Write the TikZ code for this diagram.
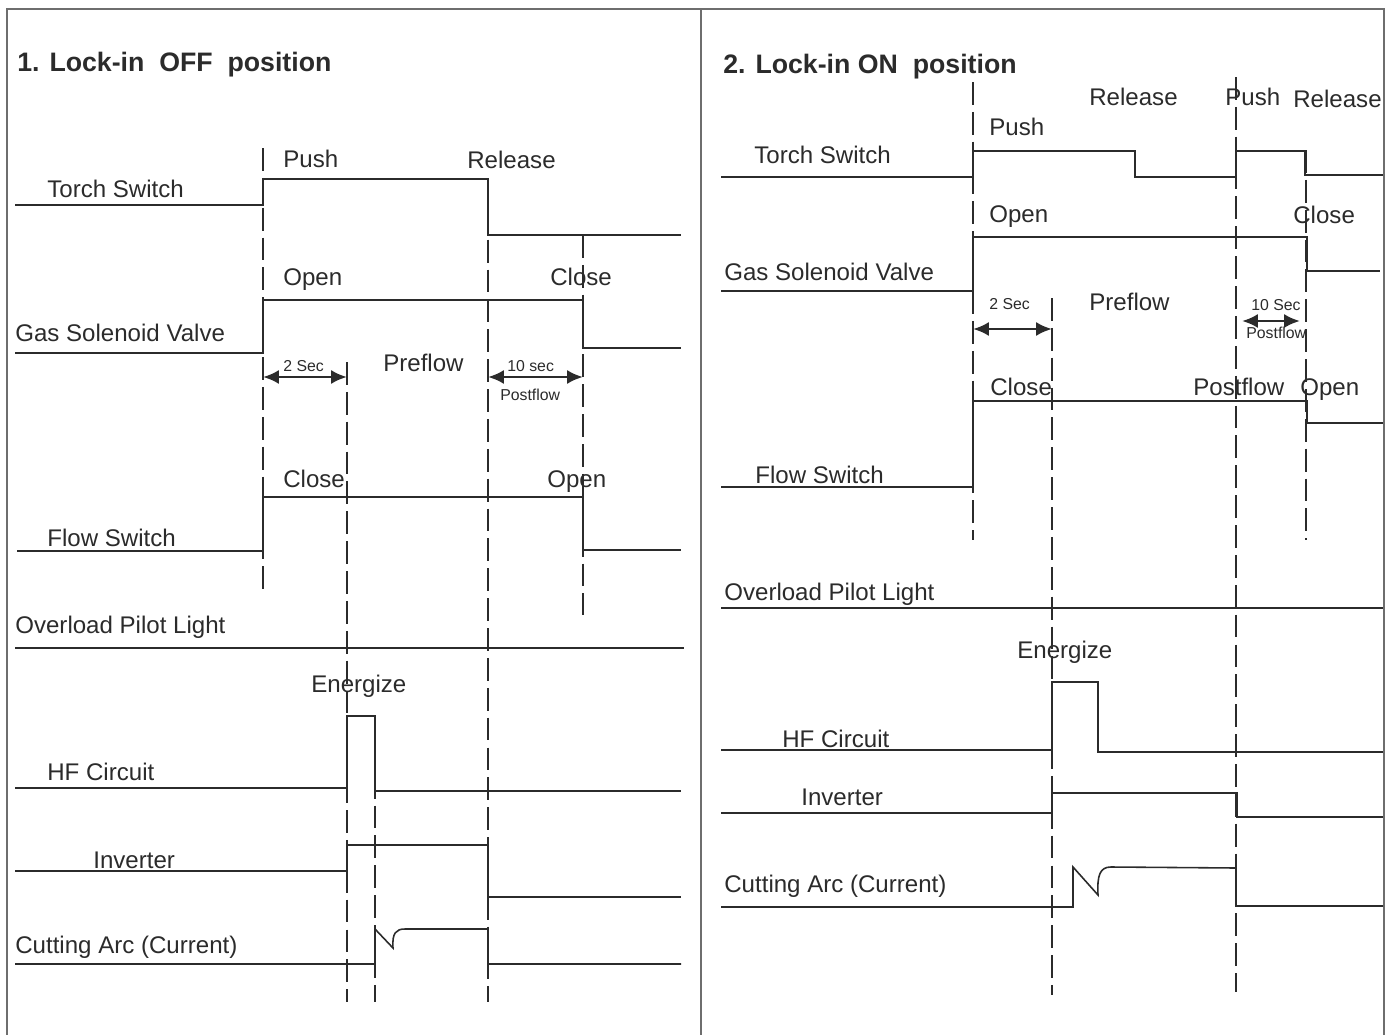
\documentclass[tikz,border=0pt]{standalone}
\usepackage{fontspec}
\setmainfont{Liberation Sans}
\usepackage{tikz}
\usetikzlibrary{arrows.meta}
\definecolor{ink}{HTML}{2B2B2B}
\definecolor{rule}{HTML}{6E6E6E}

\begin{document}
\begin{tikzpicture}[
  x=0.02cm,y=-0.02cm,
  lbl/.style={anchor=base west,inner sep=0pt,text=ink,font=\fontsize{13.7}{16}\selectfont},
  sml/.style={anchor=base west,inner sep=0pt,text=ink,font=\fontsize{9}{11}\selectfont},
  ttl/.style={anchor=base west,inner sep=0pt,text=ink,font=\fontsize{15.2}{18}\selectfont\bfseries},
  sig/.style={line width=0.9pt,color=ink},
  timeline/.style={line width=1.3pt,color=ink,dash pattern=on 13pt off 4pt},
  span/.style={{Latex[length=9pt,width=8pt]}-{Latex[length=9pt,width=8pt]},line width=1.6pt,color=ink},
  border/.style={line width=0.8pt,color=rule}
]
\useasboundingbox (0,0) rectangle (1387,1035);
\draw[border] (7,1035) -- (7,9) -- (1384,9) -- (1384,1035);
\draw[border] (701,9) -- (701,1035);

% lock-in off
\node[ttl] (offtitle) at (17,71) {1. Lock-in\ \ OFF\ \ position};
\node[lbl] (lpush) at (283,167) {Push};
\node[lbl] (lrelease) at (467,168) {Release};
\node[lbl] (ltorch) at (47,197) {Torch Switch};
\node[lbl] (lgopen) at (283,285) {Open};
\node[lbl] (lgclose) at (550,285) {Close};
\node[lbl] (lgas) at (15,341) {Gas Solenoid Valve};
\node[sml] (lpre) at (283,371) {2 Sec};
\node[lbl] (lpreflow) at (383,371) {Preflow};
\node[sml] (lpost) at (507,371) {10 sec};
\node[sml] (lpostflow) at (500,400) {Postflow};
\node[lbl] (lfclose) at (283,487) {Close};
\node[lbl] (lfopen) at (547,487) {Open};
\node[lbl] (lflow) at (47,546) {Flow Switch};
\node[lbl] (lover) at (15,633) {Overload Pilot Light};
\node[lbl] (lenergize) at (311,692) {Energize};
\node[lbl] (lhf) at (47,780) {HF Circuit};
\node[lbl] (linv) at (93,868) {Inverter};
\node[lbl] (larc) at (15,953) {Cutting Arc (Current)};

\draw[sig] (15,205) -- (263,205) -- (263,179) -- (488,179) -- (488,235) -- (681,235);
\draw[sig] (15,353) -- (263,353) -- (263,300) -- (583,300) -- (583,348) -- (681,348);
\draw[sig] (17,551) -- (263,551) -- (263,497) -- (583,497) -- (583,550) -- (681,550);
\draw[sig] (15,648) -- (684,648);
\draw[sig] (15,788) -- (347,788) -- (347,716) -- (375,716) -- (375,791) -- (681,791);
\draw[sig] (15,871) -- (347,871) -- (347,845) -- (488,845) -- (488,897) -- (681,897);
\draw[sig] (15,964) -- (375,964) -- (375,929) -- (393,948)
  .. controls (392,933) and (396,929) .. (405,929) -- (488,929) -- (488,964) -- (681,964);

\draw[timeline] (263,148) -- (263,595);
\draw[timeline] (347,362) -- (347,1002);
\draw[timeline] (375,716) -- (375,1002);
\draw[timeline] (488,180) -- (488,1002);
\draw[timeline] (583,235) -- (583,615);
\draw[span] (263,377) -- (347,377);
\draw[span] (488,377) -- (583,377);

% lock-in on
\node[ttl] (ontitle) at (723,73) {2. Lock-in ON\ \ position};
\node[lbl] (rrelease) at (1089,105) {Release};
\node[lbl] (rpushb) at (1225,105) {Push};
\node[lbl] (rreleaseb) at (1293,107) {Release};
\node[lbl] (rpush) at (989,135) {Push};
\node[lbl] (rtorch) at (754,163) {Torch Switch};
\node[lbl] (rgopen) at (989,222) {Open};
\node[lbl] (rgclose) at (1293,223) {Close};
\node[lbl] (rgas) at (724,280) {Gas Solenoid Valve};
\node[sml] (rpre) at (989,309) {2 Sec};
\node[lbl] (rpreflow) at (1089,310) {Preflow};
\node[sml] (rpost) at (1251,310) {10 Sec};
\node[sml] (rpostflowa) at (1246,338) {Postflow};
\node[lbl] (rfclose) at (990,395) {Close};
\node[lbl] (rpostflow) at (1193,395) {Postflow};
\node[lbl] (rfopen) at (1300,395) {Open};
\node[lbl] (rflow) at (755,483) {Flow Switch};
\node[lbl] (rover) at (724,600) {Overload Pilot Light};
\node[lbl] (renergize) at (1017,658) {Energize};
\node[lbl] (rhf) at (782,747) {HF Circuit};
\node[lbl] (rinv) at (801,805) {Inverter};
\node[lbl] (rarc) at (724,892) {Cutting Arc (Current)};

\draw[sig] (721,177) -- (973,177) -- (973,151) -- (1135,151) -- (1135,177) -- (1236,177)
  -- (1236,151) -- (1305,151) -- (1305,175) -- (1383,175);
\draw[sig] (721,291) -- (973,291) -- (973,237) -- (1307,237) -- (1307,271) -- (1380,271);
\draw[sig] (721,487) -- (973,487) -- (973,401) -- (1307,401) -- (1307,423) -- (1383,423);
\draw[sig] (721,608) -- (1383,608);
\draw[sig] (721,750) -- (1052,750) -- (1052,682) -- (1098,682) -- (1098,752) -- (1383,752);
\draw[sig] (721,813) -- (1052,813) -- (1052,793) -- (1237,793) -- (1237,817) -- (1383,817);
\draw[sig] (721,907) -- (1073,907) -- (1073,867) -- (1098,895)
  .. controls (1097,875) and (1100,867) .. (1111,867) -- (1236,868) -- (1236,906) -- (1383,906);

\draw[timeline] (973,82) -- (973,540);
\draw[timeline] (1052,298) -- (1052,995);
\draw[timeline] (1236,77) -- (1236,992);
\draw[timeline] (1306,150) -- (1306,540);
\draw[span] (973,329) -- (1052,329);
\draw[span] (1242,321) -- (1300,321);
\end{tikzpicture}
\end{document}
